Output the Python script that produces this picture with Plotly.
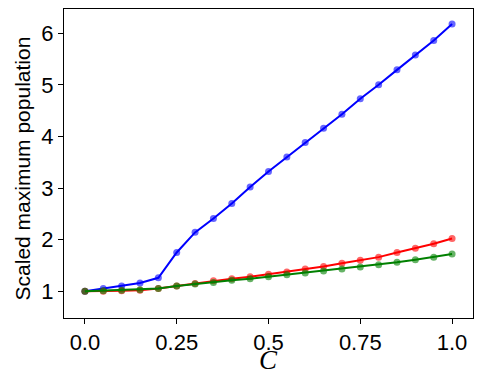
import plotly.graph_objects as go

c_vals = [0.0, 0.05, 0.1, 0.15, 0.2, 0.25, 0.3, 0.35, 0.4, 0.45, 0.5,
          0.55, 0.6, 0.65, 0.7, 0.75, 0.8, 0.85, 0.9, 0.95, 1.0]

blue_vals = [1.0, 1.05, 1.10, 1.16, 1.26, 1.75, 2.14, 2.41, 2.70, 3.02, 3.32,
             3.60, 3.88, 4.16, 4.43, 4.73, 5.00, 5.29, 5.58, 5.86, 6.18]
red_vals = [1.0, 1.0, 1.01, 1.02, 1.05, 1.10, 1.15, 1.20, 1.24, 1.28, 1.33,
            1.37, 1.43, 1.48, 1.54, 1.60, 1.66, 1.75, 1.83, 1.92, 2.02]
green_vals = [1.0, 1.01, 1.02, 1.03, 1.05, 1.10, 1.14, 1.17, 1.21, 1.24, 1.28,
              1.32, 1.35, 1.39, 1.43, 1.47, 1.51, 1.56, 1.61, 1.66, 1.72]

x_ticks = [0.0, 0.25, 0.5, 0.75, 1.0]
x_ticklabels = ["0.0", "0.25", "0.5", "0.75", "1.0"]
y_ticks = [1, 2, 3, 4, 5, 6]

fig = go.Figure()
for vals, col in [(blue_vals, "blue"), (red_vals, "red"), (green_vals, "green")]:
    fig.add_trace(go.Scatter(
        x=c_vals, y=vals, mode="lines+markers",
        line=dict(color=col, width=2),
        marker=dict(color=col, size=7, opacity=0.6),
        showlegend=False,
    ))

axis_common = dict(
    showgrid=False, zeroline=False, showline=True, linecolor="black",
    linewidth=1, mirror=True, ticks="outside", ticklen=5, tickcolor="black",
    tickfont=dict(family="Liberation Sans", size=22, color="black"),
    automargin=False,
)

# page body has an 8px margin, so the figure is 8px smaller than the window
fig.update_layout(
    width=490, height=366,
    margin=dict(l=56, r=25, t=1, b=56),
    plot_bgcolor="white", paper_bgcolor="white",
    xaxis=dict(range=[-0.057, 1.057], tickvals=x_ticks, ticktext=x_ticklabels,
               **axis_common),
    yaxis=dict(range=[0.48, 6.47], tickvals=y_ticks, **axis_common),
)

# axis titles
fig.add_annotation(text="<i>C</i>", xref="paper", yref="paper", x=0.5, y=0,
                   xanchor="center", yanchor="middle", yshift=-42, showarrow=False,
                   font=dict(family="Liberation Serif", size=27, color="black"))
fig.add_annotation(text="Scaled maximum population", xref="paper", yref="paper",
                   x=0, y=0.484, xanchor="center", yanchor="middle", xshift=-42,
                   textangle=-90, showarrow=False,
                   font=dict(family="Liberation Sans", size=21, color="black"))

fig.write_html("out.html")
